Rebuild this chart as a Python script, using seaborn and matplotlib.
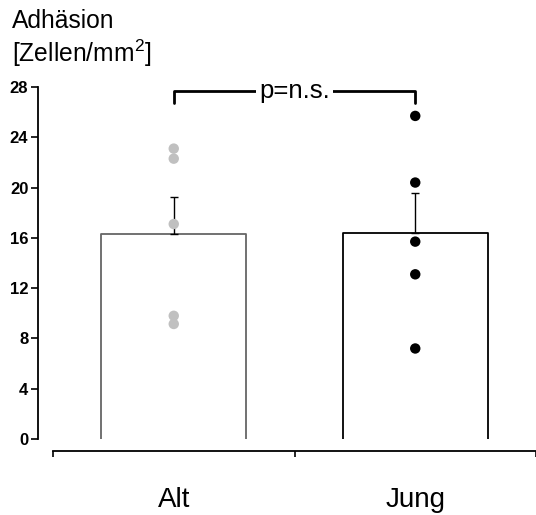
import matplotlib
matplotlib.use('Agg')
import pandas as pd
import numpy as np
import matplotlib.pyplot as plt
import seaborn as sns

# adhesion values per group (cells/mm^2)
groups = ['Alt', 'Jung']
alt_values = [23.1, 22.3, 17.1, 9.8, 9.15]
jung_values = [25.7, 20.4, 15.7, 13.1, 7.2]
point_colors = {'Alt': '#c0c0c0', 'Jung': '#000000'}
bar_edges = {'Alt': '#666666', 'Jung': '#000000'}
y_ticks = [0, 4, 8, 12, 16, 20, 24, 28]
bracket_top = 27.7
bracket_drop = 1.0
p_label = 'p=n.s.'

df = pd.DataFrame({
    'group': ['Alt'] * len(alt_values) + ['Jung'] * len(jung_values),
    'value': alt_values + jung_values,
})
stats = df.groupby('group', sort=False)['value'].agg(['mean', 'sem'])

sns.set_style('white')
plt.rcParams['font.family'] = ['Liberation Sans', 'DejaVu Sans']
plt.rcParams['text.color'] = 'black'
plt.rcParams['xtick.color'] = 'black'
plt.rcParams['ytick.color'] = 'black'
plt.rcParams['mathtext.fontset'] = 'custom'
plt.rcParams['mathtext.rm'] = 'Liberation Sans'

fig = plt.figure(figsize=(5.36, 5.15), dpi=100)
ax = fig.add_axes([53 / 536, 76 / 515, 483 / 536, 352 / 515])

# white bars without outline, outline drawn afterwards (open at the bottom)
sns.barplot(data=df, x='group', y='value', order=groups, errorbar=None,
            color='white', width=0.6, linewidth=0, ax=ax, zorder=1)
for p, g in zip(ax.patches, groups):
    x0, x1, h = p.get_x(), p.get_x() + p.get_width(), p.get_height()
    ax.plot([x0, x0, x1, x1], [0, h, h, 0], color=bar_edges[g], lw=1.3, zorder=2)

# upper SEM bars only
for i, g in enumerate(groups):
    ax.errorbar(i, stats.loc[g, 'mean'], yerr=[[0], [stats.loc[g, 'sem']]],
                fmt='none', ecolor='black', elinewidth=1, capsize=3.2, capthick=1, zorder=3)

sns.stripplot(data=df, x='group', y='value', order=groups, hue='group',
              palette=point_colors, jitter=False, size=7.5, linewidth=0,
              legend=False, ax=ax, zorder=4)

# significance bracket
ax.plot([0, 0, 1, 1], [bracket_top - bracket_drop, bracket_top, bracket_top, bracket_top - bracket_drop],
        color='black', lw=2, clip_on=False, zorder=5)
ax.text(0.5, bracket_top, p_label, ha='center', va='center', fontsize=18.5,
        bbox=dict(facecolor='white', edgecolor='none', pad=2.5), zorder=6)

# spines first: set_position resets the ticks
for s in ['top', 'right']:
    ax.spines[s].set_visible(False)
ax.spines['left'].set_position(('outward', 10.8))
ax.spines['bottom'].set_position(('outward', 8.6))
for s in ['left', 'bottom']:
    ax.spines[s].set_color('black')
    ax.spines[s].set_linewidth(1.3)

ax.set_ylim(0, 28)
ax.set_xlim(-0.5, 1.48)
ax.set_xlabel('')
ax.set_ylabel('')
ax.tick_params(axis='x', which='major', direction='out', length=4.5, width=1.2, bottom=True)
ax.tick_params(axis='x', which='minor', length=0, pad=26, labelsize=20)
ax.tick_params(axis='y', direction='out', length=5, width=1.2, left=True, pad=2, labelsize=12)
ax.set_yticks(y_ticks)
ax.set_yticklabels([str(t) for t in y_ticks], fontsize=12, fontweight='bold')
ax.set_xticks([-0.5, 0.5, 1.5])
ax.set_xticklabels(['', '', ''])
ax.set_xticks([0, 1], minor=True)
ax.set_xticklabels(groups, minor=True, fontsize=20)

fig.text(12 / 536, 1 - 9.5 / 515, 'Adhäsion\n[Zellen/mm$^2$]', ha='left', va='top',
         fontsize=17.7, linespacing=1.17)

fig.savefig('out.png', dpi=100)
